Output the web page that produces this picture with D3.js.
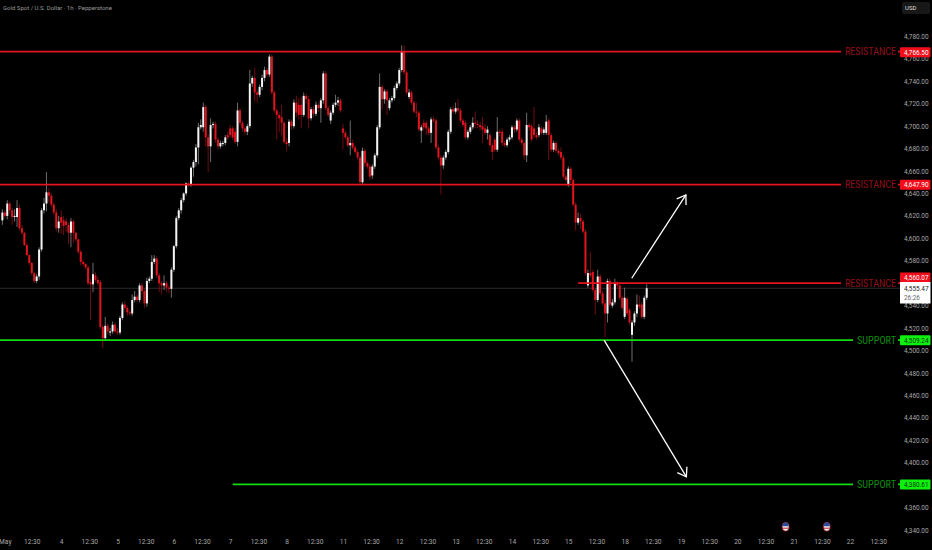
<!DOCTYPE html>
<html><head><meta charset="utf-8">
<script src="https://cdnjs.cloudflare.com/ajax/libs/d3/7.8.5/d3.min.js"></script>
<style>html,body{margin:0;padding:0;background:#000;overflow:hidden}svg{display:block}text{font-family:Roboto,"Liberation Sans",sans-serif}</style>
</head><body><svg id="c" width="932" height="550"></svg>
<script>
const titleText = "Gold Spot / U.S. Dollar · 1h · Pepperstone";
const opens = [
4616,4623,4620,4631,4625,4619,4619,4627,4609,4605,
4594,4585,4578,4569,4562,4566,4590,4625,4631,4641,
4638,4630,4623,4609,4619,4616,4615,4612,4605,4615,
4605,4599,4588,4579,4577,4574,4561,4559,4567,4563,
4561,4521,4511,4522,4516,4517,4523,4517,4516,4529,
4541,4538,4534,4533,4545,4548,4545,4558,4553,4542,
4562,4564,4579,4582,4567,4560,4558,4560,4556,4555,
4572,4593,4618,4625,4634,4640,4649,4648,4663,4668,
4681,4699,4699,4717,4690,4682,4701,4702,4688,4682,
4684,4685,4692,4698,4698,4695,4686,4714,4703,4698,
4695,4700,4738,4743,4730,4728,4735,4743,4750,4746,
4762,4730,4714,4710,4708,4703,4686,4685,4704,4700,
4721,4719,4719,4710,4727,4724,4707,4715,4711,4719,
4716,4723,4747,4716,4705,4712,4719,4721,4723,4698,
4694,4690,4683,4685,4681,4677,4672,4650,4678,4667,
4664,4656,4664,4674,4699,4735,4724,4731,4716,4723,
4725,4734,4738,4750,4766,4748,4726,4730,4721,4713,
4712,4696,4703,4703,4698,4694,4706,4705,4681,4672,
4665,4672,4677,4695,4715,4713,4716,4714,4705,4703,
4690,4695,4699,4703,4702,4701,4700,4698,4694,4692,
4683,4688,4679,4695,4695,4685,4683,4688,4690,4699,
4697,4705,4688,4685,4674,4701,4700,4698,4692,4692,
4698,4694,4694,4705,4692,4679,4685,4678,4677,4672,
4655,4648,4662,4652,4630,4614,4618,4615,4606,4558,
4569,4570,4554,4545,4566,4551,4542,4533,4562,4540,
4543,4560,4558,4547,4530,4546,4536,4514,4525,4533,
4541,4541,4530,4547];
const closes = [
4623,4620,4631,4625,4619,4620,4627,4609,4605,4594,
4585,4578,4569,4562,4566,4590,4625,4631,4641,4638,
4630,4623,4609,4615,4614,4611,4612,4605,4615,4605,
4599,4588,4579,4577,4574,4560,4559,4568,4563,4560,
4521,4511,4522,4517,4517,4523,4517,4516,4529,4541,
4538,4534,4533,4545,4548,4545,4558,4553,4542,4562,
4564,4579,4582,4567,4560,4558,4560,4556,4555,4572,
4593,4618,4625,4634,4640,4649,4648,4663,4668,4681,
4699,4701,4717,4690,4682,4701,4702,4688,4682,4685,
4685,4690,4690,4692,4690,4686,4714,4703,4698,4695,
4700,4738,4743,4730,4728,4735,4743,4750,4746,4762,
4730,4714,4710,4707,4703,4686,4684,4704,4700,4721,
4712,4710,4710,4727,4724,4707,4715,4711,4719,4716,
4723,4747,4716,4710,4712,4719,4721,4723,4714,4694,
4690,4683,4685,4681,4677,4672,4650,4678,4667,4664,
4655,4664,4674,4699,4735,4724,4731,4723,4723,4725,
4734,4738,4750,4766,4748,4730,4730,4721,4713,4712,
4697,4699,4699,4698,4694,4706,4705,4681,4672,4665,
4672,4677,4695,4715,4713,4716,4714,4705,4701,4690,
4695,4699,4703,4702,4701,4699,4697,4694,4697,4683,
4677,4679,4695,4694,4685,4683,4688,4690,4699,4697,
4705,4688,4685,4674,4701,4699,4688,4692,4690,4699,
4694,4697,4704,4692,4679,4685,4678,4676,4672,4655,
4652,4662,4652,4630,4614,4618,4615,4606,4569,4569,
4567,4554,4545,4566,4551,4542,4533,4562,4541,4543,
4560,4558,4547,4538,4547,4533,4525,4525,4533,4541,
4539,4530,4547,4555.47];
const highs = [
4626,4625,4634,4633,4627,4626,4634,4630,4612,4606,
4596,4586,4579,4570,4568,4592,4627,4636,4659,4645,
4640,4632,4626,4620,4625,4620,4618,4614,4618,4617,
4606,4600,4590,4581,4578,4576,4564,4578,4570,4566,
4563,4523,4530,4524,4520,4526,4525,4520,4531,4543,
4544,4540,4536,4550,4553,4550,4560,4560,4555,4565,
4566,4585,4585,4584,4569,4562,4567,4562,4558,4574,
4594,4620,4627,4636,4641,4650,4651,4664,4670,4684,
4703,4706,4721,4719,4693,4707,4704,4704,4690,4687,
4687,4692,4695,4701,4700,4698,4721,4716,4705,4700,
4702,4750,4745,4752,4732,4737,4746,4753,4752,4764,
4764,4732,4716,4712,4719,4705,4689,4706,4706,4724,
4727,4725,4726,4730,4729,4727,4717,4718,4722,4721,
4725,4749,4749,4718,4714,4721,4728,4726,4725,4702,
4696,4692,4705,4688,4683,4679,4674,4681,4680,4669,
4666,4666,4676,4701,4747,4737,4733,4733,4725,4727,
4736,4740,4752,4772,4772,4750,4733,4732,4723,4721,
4714,4701,4706,4705,4700,4708,4709,4707,4683,4674,
4674,4679,4697,4717,4718,4721,4724,4716,4707,4705,
4697,4701,4708,4713,4705,4704,4708,4702,4700,4694,
4685,4690,4708,4697,4698,4687,4690,4692,4701,4701,
4707,4707,4690,4687,4712,4703,4702,4717,4695,4702,
4700,4699,4710,4707,4694,4687,4687,4680,4681,4674,
4657,4664,4664,4654,4632,4623,4622,4617,4608,4572,
4588,4572,4556,4572,4568,4553,4545,4564,4564,4546,
4564,4562,4560,4549,4556,4548,4538,4527,4535,4550,
4549,4543,4549,4559];
const lows = [
4612,4618,4617,4622,4612,4615,4610,4607,4603,4593,
4584,4576,4567,4560,4560,4563,4588,4622,4624,4632,
4628,4621,4606,4605,4604,4603,4606,4595,4592,4596,
4597,4586,4576,4575,4572,4558,4527,4552,4561,4558,
4519,4502,4509,4514,4513,4515,4515,4514,4514,4527,
4536,4531,4531,4531,4543,4543,4543,4550,4538,4539,
4560,4562,4577,4565,4552,4550,4554,4552,4551,4547,
4570,4591,4616,4622,4632,4638,4646,4646,4655,4664,
4666,4697,4695,4682,4659,4668,4698,4685,4679,4680,
4682,4683,4688,4690,4688,4684,4682,4700,4695,4692,
4692,4698,4735,4722,4721,4726,4732,4740,4744,4744,
4728,4712,4688,4695,4692,4684,4678,4682,4697,4698,
4708,4706,4698,4708,4720,4698,4705,4708,4709,4713,
4703,4720,4714,4708,4702,4710,4717,4718,4712,4679,
4688,4681,4674,4679,4675,4670,4648,4648,4664,4662,
4652,4653,4662,4672,4697,4715,4720,4710,4714,4721,
4723,4732,4736,4748,4746,4728,4724,4719,4711,4708,
4695,4685,4696,4692,4692,4685,4703,4679,4670,4639,
4662,4670,4675,4693,4711,4711,4712,4703,4699,4688,
4688,4693,4697,4698,4698,4696,4685,4692,4688,4681,
4670,4677,4677,4691,4682,4681,4681,4686,4688,4694,
4695,4686,4683,4670,4668,4696,4686,4689,4688,4690,
4692,4692,4692,4670,4677,4677,4676,4674,4670,4653,
4650,4646,4649,4628,4607,4612,4608,4604,4567,4556,
4565,4552,4532,4543,4549,4540,4512,4525,4539,4538,
4541,4556,4545,4536,4528,4531,4523,4490,4522,4530,
4537,4528,4528,4545];

const yTickValues = [4780,4760,4740,4720,4700,4680,4660,4640,4620,4600,4580,4540,4520,4500,4480,4460,4440,4420,4400,4380,4360,4340];
const xTickBars = [1,12,24,35.5,47,58.5,70,81.5,93,104.5,116,127.5,139,150.5,162,173.5,185,196.5,208,219.5,231,242.5,254,265.5,277,288.5,300,311.5,323,334.5,346,357.5];
const xTickLabels = ["May","12:30","4","12:30","5","12:30","6","12:30","7","12:30","8","12:30","11","12:30","12","12:30","13","12:30","14","12:30","15","12:30","18","12:30","19","12:30","20","12:30","21","12:30","22","12:30"];

const levelNames = ["RESISTANCE","RESISTANCE","RESISTANCE","SUPPORT","SUPPORT"];
const levelPrices = [4766.50,4647.90,4560.07,4509.24,4380.61];
const levelStartBars = [-2,-2,235,-2,94];
const levelKinds = ["r","r","r","g","g"];
const lastPrice = 4555.47;
const countdown = "26:26";
const currency = "USD";
const arrowFromBars = [256.9,245.6];
const arrowFromPrices = [4564.4,4509.24];
const arrowToBars = [279,279.2];
const arrowToPrices = [4638.7,4387.4];
const eventBars = [319.7,336.5];

const RED="#e2141f", DRED="#8e0f1a", GRN="#12dc12", DGRN="#0f8a12";
const svg=d3.select("#c");
const x=d3.scaleLinear().domain([0,263]).range([2.35,646.7]);
const y=d3.scaleLinear().domain([4780,4340]).range([36.4,530]);
const AXL=900;

svg.append("rect").attr("width",932).attr("height",550).attr("fill","#000");

// last price hairline
svg.append("line").attr("x1",0).attr("x2",AXL).attr("y1",y(lastPrice)).attr("y2",y(lastPrice)).attr("stroke","#2b2b2b").attr("stroke-width",1);

// candles
const bars=d3.range(opens.length);
const g=svg.append("g");
g.selectAll("line.w").data(bars).join("line").attr("class","w")
 .attr("x1",i=>x(i)).attr("x2",i=>x(i)).attr("y1",i=>y(highs[i])).attr("y2",i=>y(lows[i]))
 .attr("stroke",i=>closes[i]>=opens[i]?"#8a8a8a":"#8c1018").attr("stroke-width",0.8);
g.selectAll("rect.b").data(bars).join("rect").attr("class","b")
 .attr("x",i=>x(i)-1.0).attr("width",2.0)
 .attr("y",i=>y(Math.max(opens[i],closes[i])))
 .attr("height",i=>Math.max(1,Math.abs(y(opens[i])-y(closes[i]))))
 .attr("fill",i=>closes[i]>=opens[i]?"#f4f4f4":RED);

// level lines with labels
const textRight=896;
levelPrices.forEach((p,k)=>{
  const c=levelKinds[k]==="r"?RED:GRN, dc=levelKinds[k]==="r"?DRED:DGRN;
  const textW=levelKinds[k]==="r"?51:39;
  svg.append("line").attr("x1",x(levelStartBars[k])).attr("x2",textRight-textW-4).attr("y1",y(p)).attr("y2",y(p)).attr("stroke",c).attr("stroke-width",1.8);
  svg.append("line").attr("x1",textRight+2).attr("x2",AXL).attr("y1",y(p)).attr("y2",y(p)).attr("stroke",c).attr("stroke-width",1.8);
  svg.append("text").attr("x",textRight-textW).attr("y",y(p)+3.8).attr("fill",dc)
    .style("font-family",'"Liberation Sans Narrow","Roboto Condensed",Roboto,sans-serif').style("font-size","11px")
    .attr("textLength",textW).attr("lengthAdjust","spacingAndGlyphs").text(levelNames[k]);
});

// arrows
const barbLen=10;
arrowFromBars.forEach((_,k)=>{
  const x0=x(arrowFromBars[k]),y0=y(arrowFromPrices[k]),x1=x(arrowToBars[k]),y1=y(arrowToPrices[k]);
  const a=Math.atan2(y1-y0,x1-x0);
  const line=d3.line();
  const pts=[[x1+barbLen*Math.cos(a+2.55),y1+barbLen*Math.sin(a+2.55)],[x1,y1],[x1+barbLen*Math.cos(a-2.55),y1+barbLen*Math.sin(a-2.55)]];
  svg.append("path").attr("d",line([[x0,y0],[x1,y1]])).attr("stroke","#fff").attr("stroke-width",1.3).attr("fill","none");
  svg.append("path").attr("d",line(pts)).attr("stroke","#fff").attr("stroke-width",1.3).attr("fill","none");
});

// y axis
const yAxis=d3.axisRight(y).tickValues(yTickValues).tickSize(0).tickPadding(0).tickFormat(d3.format(",.2f"));
const ya=svg.append("g").attr("transform",`translate(904,0)`).call(yAxis);
ya.select(".domain").remove();
ya.selectAll("text").attr("fill","#a8a8a8").style("font-size","6.4px").attr("x",0);

// x axis
const xAxis=d3.axisBottom(x).tickValues(xTickBars).tickSize(0).tickPadding(0).tickFormat((d,i)=>xTickLabels[i]);
const xa=svg.append("g").attr("transform","translate(0,541.5)").call(xAxis);
xa.select(".domain").remove();
xa.selectAll("text").attr("fill","#a8a8a8").style("font-size","6.6px").attr("y",0).attr("dy","0.35em");

// price tags
function tag(cy,h,bg,fg,txt){
  svg.append("rect").attr("x",900).attr("y",cy-h/2).attr("width",30.5).attr("height",h).attr("rx",1).attr("fill",bg);
  svg.append("text").attr("x",904).attr("y",cy+2.4).attr("fill",fg).style("font-size","6.4px").text(txt);
}
const fmt=d3.format(",.2f");
tag(y(levelPrices[0])+0.8,10,"#f20d1a","#fff",fmt(levelPrices[0]));
tag(y(levelPrices[1])+0.2,10,"#f20d1a","#fff",fmt(levelPrices[1]));
tag(277.2,9.6,"#f20d1a","#fff",fmt(levelPrices[2]));
svg.append("rect").attr("x",900).attr("y",282).attr("width",30.5).attr("height",21.5).attr("fill","#fff");
svg.append("text").attr("x",904).attr("y",291).attr("fill","#222").style("font-size","6.4px").text(fmt(lastPrice));
svg.append("text").attr("x",904).attr("y",300).attr("fill","#666").style("font-size","6.4px").text(countdown);
tag(y(levelPrices[3]),10,"#0ff00f","#0a3a0a",fmt(levelPrices[3]));
tag(y(levelPrices[4]),10,"#0ff00f","#0a3a0a",fmt(levelPrices[4]));

// currency button
svg.append("rect").attr("x",902).attr("y",2).attr("width",28).attr("height",12).attr("rx",2).attr("fill","#181818");
svg.append("text").attr("x",905).attr("y",10.3).attr("fill","#ddd").style("font-size","6px").text(currency);

// title
svg.append("text").attr("x",3).attr("y",10).attr("fill","#9a9a9a").style("font-size","6px").text(titleText);

// event flags
eventBars.forEach(b=>{
  const cx=x(b),cy=526.7;
  svg.append("ellipse").attr("cx",cx).attr("cy",cy).attr("rx",4).attr("ry",5).attr("fill","#7a1420");
  svg.append("ellipse").attr("cx",cx).attr("cy",cy).attr("rx",3).attr("ry",4).attr("fill","#eee");
  svg.append("path").attr("d",`M${cx-3},${cy-0.5}A3,4 0 0 1 ${cx+3},${cy-0.5}Z`).attr("fill","#2a4a9a");
  svg.append("rect").attr("x",cx-2.8).attr("y",cy+1).attr("width",5.6).attr("height",1).attr("fill","#c8202c");
});
</script></body></html>
